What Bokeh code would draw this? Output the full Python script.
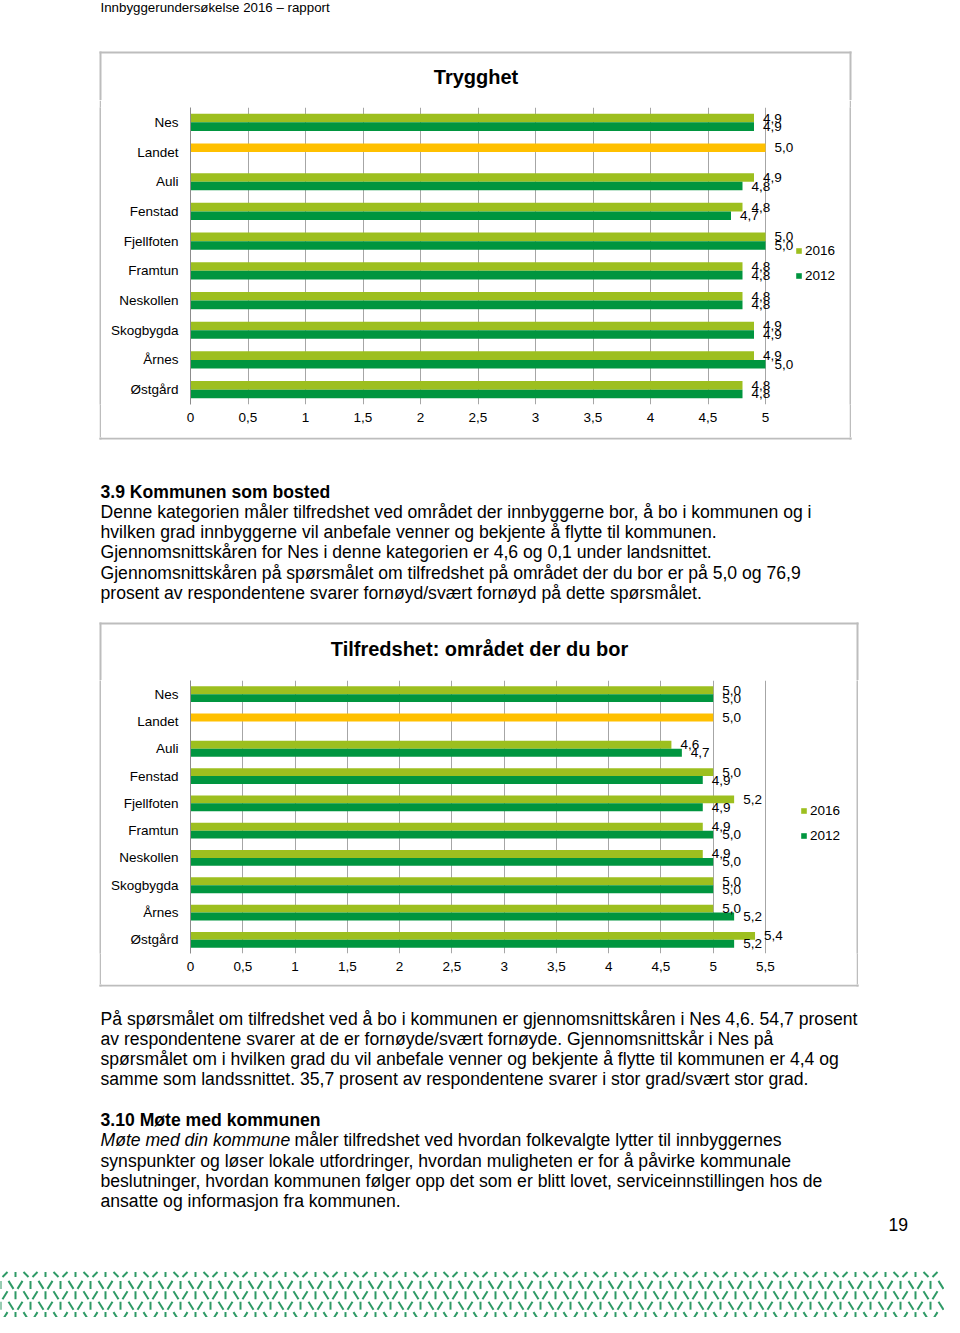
from bokeh.plotting import figure
from bokeh.models import (ColumnDataSource, FactorRange, Range1d, FixedTicker,
                          CustomJSTickFormatter, Legend, LegendItem, Spacer)
from bokeh.layouts import column, row
from bokeh.transform import dodge
from bokeh.core.properties import value
from bokeh.embed import file_html
from bokeh.resources import INLINE

FONT = "Liberation Sans"
LIGHT = "#9dbf1f"
DARK = "#00953f"
YELLOW = "#ffc000"
GRID = "#a6a6a6"
BOX = "#bdbdbd"
PATTERN = "#2e9a66"
CHART_FS = "13.5px"
BODY_FS = "17.6px"

# ---------------- data ----------------
categories = ["Nes", "Landet", "Auli", "Fenstad", "Fjellfoten", "Framtun",
              "Neskollen", "Skogbygda", "Årnes", "Østgård"]
series_names = ["2016", "2012"]

trygghet_title = "Trygghet"
trygghet_2016 = [4.9, 5.0, 4.9, 4.8, 5.0, 4.8, 4.8, 4.9, 4.9, 4.8]
trygghet_2012 = [4.9, None, 4.8, 4.7, 5.0, 4.8, 4.8, 4.9, 5.0, 4.8]

omrade_title = "Tilfredshet: området der du bor"
omrade_2016 = [5.0, 5.0, 4.6, 5.0, 5.2, 4.9, 4.9, 5.0, 5.0, 5.4]
omrade_2012 = [5.0, None, 4.7, 4.9, 4.9, 5.0, 5.0, 5.0, 5.2, 5.2]

ticks_trygghet = [0, 0.5, 1, 1.5, 2, 2.5, 3, 3.5, 4, 4.5, 5]
ticks_omrade = [0, 0.5, 1, 1.5, 2, 2.5, 3, 3.5, 4, 4.5, 5, 5.5]

header_text = "Innbyggerundersøkelse 2016 – rapport"
section_39_title = "3.9 Kommunen som bosted"
section_39_lines = [
    "Denne kategorien måler tilfredshet ved området der innbyggerne bor, å bo i kommunen og i",
    "hvilken grad innbyggerne vil anbefale venner og bekjente å flytte til kommunen.",
    "Gjennomsnittskåren for Nes i denne kategorien er 4,6 og 0,1 under landsnittet.",
    "Gjennomsnittskåren på spørsmålet om tilfredshet på området der du bor er på 5,0 og 76,9",
    "prosent av respondentene svarer fornøyd/svært fornøyd på dette spørsmålet.",
]
after_chart_lines = [
    "På spørsmålet om tilfredshet ved å bo i kommunen er gjennomsnittskåren i Nes 4,6. 54,7 prosent",
    "av respondentene svarer at de er fornøyde/svært fornøyde. Gjennomsnittskår i Nes på",
    "spørsmålet om i hvilken grad du vil anbefale venner og bekjente å flytte til kommunen er 4,4 og",
    "samme som landssnittet. 35,7 prosent av respondentene svarer i stor grad/svært stor grad.",
]
section_310_title = "3.10 Møte med kommunen"
section_310_italic = "Møte med din kommune"
section_310_first = "måler tilfredshet ved hvordan folkevalgte lytter til innbyggernes"
section_310_lines = [
    "synspunkter og løser lokale utfordringer, hvordan muligheten er for å påvirke kommunale",
    "beslutninger, hvordan kommunen følger opp det som er blitt lovet, serviceinnstillingen hos de",
    "ansatte og informasjon fra kommunen.",
]
page_number = "19"


def fmt(v):
    return f"{v:.1f}".replace(".", ",")


def make_chart(v16, v12, ticks, px_per_unit, width, height,
               top, bottom, legend_xy):
    left = 89
    frame_w = width - left
    p = figure(width=width, height=height,
               y_range=FactorRange(factors=categories[::-1]),
               x_range=Range1d(0, frame_w / px_per_unit),
               output_backend="svg", toolbar_location=None,
               min_border_left=left, min_border_right=0,
               min_border_top=top, min_border_bottom=bottom)
    p.outline_line_color = None

    c16 = [YELLOW if c == "Landet" else LIGHT for c in categories]
    src16 = ColumnDataSource(dict(cat=categories, v=v16, color=c16,
                                  label=[fmt(v) for v in v16]))
    cats12 = [c for c, v in zip(categories, v12) if v is not None]
    vals12 = [v for v in v12 if v is not None]
    src12 = ColumnDataSource(dict(cat=cats12, v=vals12,
                                  label=[fmt(v) for v in vals12]))

    off = 0.145
    r16 = p.hbar(y=dodge("cat", off, range=p.y_range), left=0, right="v",
                 height=0.29, fill_color="color", line_color=None, source=src16)
    r12 = p.hbar(y=dodge("cat", -off, range=p.y_range), left=0, right="v",
                 height=0.29, fill_color=DARK, line_color=None, source=src12)
    for src, o in ((src16, off), (src12, -off)):
        p.text(x="v", y=dodge("cat", o, range=p.y_range), text="label",
               source=src, x_offset=9, text_baseline="middle",
               text_align="left", text_font=value(FONT),
               text_font_size=CHART_FS, text_color="#000000")

    legend = Legend(items=[LegendItem(label=series_names[0], renderers=[r16], index=0),
                           LegendItem(label=series_names[1], renderers=[r12])],
                    location=legend_xy)
    legend.glyph_width = 7
    legend.glyph_height = 7
    legend.label_height = 15
    legend.spacing = 10
    legend.padding = 0
    legend.margin = 0
    legend.label_standoff = 3
    legend.border_line_color = None
    legend.background_fill_alpha = 0
    legend.label_text_font = FONT
    legend.label_text_font_size = CHART_FS
    legend.label_text_color = "#000000"
    p.add_layout(legend)

    p.xaxis.ticker = FixedTicker(ticks=ticks)
    p.xaxis.formatter = CustomJSTickFormatter(code="return tick.toString().replace('.', ',')")
    p.xaxis.axis_line_color = None
    p.xaxis.major_tick_line_color = None
    p.xaxis.minor_tick_line_color = None
    p.xaxis.major_tick_out = 0
    p.xaxis.major_tick_in = 0
    p.xaxis.major_label_standoff = 8
    p.xaxis.major_label_text_font = FONT
    p.xaxis.major_label_text_font_size = CHART_FS
    p.xaxis.major_label_text_color = "#000000"

    p.yaxis.axis_line_color = "#8c8c8c"
    p.yaxis.major_tick_line_color = None
    p.yaxis.major_tick_out = 0
    p.yaxis.major_tick_in = 0
    p.yaxis.major_label_standoff = 12
    p.yaxis.major_label_text_font = FONT
    p.yaxis.major_label_text_font_size = CHART_FS
    p.yaxis.major_label_text_color = "#000000"

    p.xgrid.grid_line_color = GRID
    p.xgrid.grid_line_width = 1
    p.ygrid.grid_line_color = None
    return p


def blank_fig(x0, x1, y_top, y_bottom):
    f = figure(width=x1 - x0, height=y_bottom - y_top,
               x_range=Range1d(x0, x1), y_range=Range1d(y_bottom, y_top),
               output_backend="svg", toolbar_location=None, min_border=0,
               x_axis_type=None, y_axis_type=None)
    f.outline_line_color = None
    f.grid.visible = False
    return f


def side_bar(height):
    # a 2px-wide grey strip used as the left/right edge of a chart box
    f = figure(width=2, height=height, output_backend="svg",
               toolbar_location=None, min_border=0,
               x_axis_type=None, y_axis_type=None)
    f.outline_line_color = None
    f.grid.visible = False
    f.background_fill_color = BOX
    f.border_fill_color = BOX
    return f


def put(f, x, y, txt, size=BODY_FS, style="normal", align="left"):
    f.text(x=[x], y=[y], text=[txt], text_baseline="middle", text_align=align,
           text_font=value(FONT), text_font_size=size, text_font_style=style,
           text_color="#000000")


def hline(f, x0, x1, y):
    f.segment(x0=[x0], y0=[y], x1=[x1], y1=[y], line_color=BOX, line_width=2)


def vline(f, x, y0, y1):
    f.segment(x0=[x], y0=[y0], x1=[x], y1=[y1], line_color=BOX, line_width=2)


# header + top of chart box 1 (0..100)
header = blank_fig(0, 944, 0, 100)
put(header, 100, 7, header_text, size="13.3px")
hline(header, 99, 851, 52)
vline(header, 100, 51, 101)
vline(header, 850, 51, 101)
put(header, 475.5, 76, trygghet_title, size="20px", style="bold", align="center")

# chart 1 row (100..437): box x 100..850
chart1 = make_chart(trygghet_2016, trygghet_2012, ticks_trygghet,
                    115.0, 748, 337, 7, 33, (605, 121))
row1 = row(Spacer(width=99, height=337), side_bar(337), chart1, side_bar(337),
           spacing=0)

# text between charts + top of chart box 2 (437..680)
mid = blank_fig(0, 944, 437, 680)
hline(mid, 99, 851, 438)
vline(mid, 100, 430, 439)
vline(mid, 850, 430, 439)
put(mid, 100, 491, section_39_title, style="bold")
for i, line in enumerate(section_39_lines):
    put(mid, 100, 511.5 + 20.2 * i, line)
hline(mid, 99, 858, 623)
vline(mid, 100, 622, 681)
vline(mid, 857, 622, 681)
put(mid, 479, 648, omrade_title, size="20px", style="bold", align="center")

# chart 2 row (680..984): box x 100..857
chart2 = make_chart(omrade_2016, omrade_2012, ticks_omrade, 575 / 5.5,
                    755, 304, 0, 31, (610, 110))
row2 = row(Spacer(width=99, height=304), side_bar(304), chart2, side_bar(304),
           spacing=0)

# lower text + footer (984..1317)
low = blank_fig(0, 944, 984, 1317)
hline(low, 99, 858, 985)
vline(low, 100, 980, 986)
vline(low, 857, 980, 986)
for i, line in enumerate(after_chart_lines):
    put(low, 100, 1018 + 20.2 * i, line)
put(low, 100, 1119, section_310_title, style="bold")
put(low, 100, 1139.5, section_310_italic, style="italic")
put(low, 294, 1139.5, section_310_first)
for i, line in enumerate(section_310_lines):
    put(low, 100, 1160 + 20.2 * i, line)
put(low, 888, 1224, page_number)

# decorative footer pattern
x0s, y0s, x1s, y1s = [], [], [], []
for k in range(6):
    yc = 1274 + 10.4 * k
    half = 4 if k > 0 else 2.5
    typeA = (k % 2 == 1)
    for j in range(-1, 34):
        vcenter = (15 + 30 * j) if typeA else (30 * j)
        bar_x = (30 * j) if typeA else (15 + 30 * j)
        x0s += [vcenter - 7, vcenter + 2, bar_x]
        y0s += [yc - half, yc + half, yc - half]
        x1s += [vcenter - 2, vcenter + 7, bar_x]
        y1s += [yc + half, yc - half, yc + half]
low.segment(x0=x0s, y0=y0s, x1=x1s, y1=y1s, line_color=PATTERN, line_width=2)

layout = column(header, row1, mid, row2, low, spacing=0)

open("out.html", "w").write(file_html(layout, INLINE))
